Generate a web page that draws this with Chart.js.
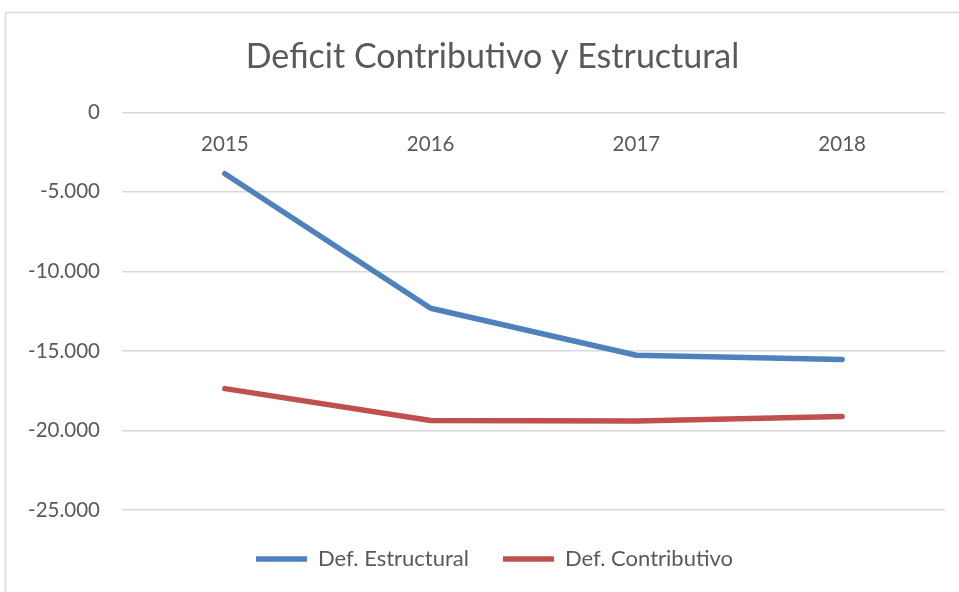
<!DOCTYPE html>
<html>
<head>
<meta charset="utf-8">
<script src="https://cdn.jsdelivr.net/npm/chart.js@4"></script>
<style>
  html, body { margin: 0; padding: 0; background: #ffffff; }
  #wrap { width: 959px; height: 592px; }
</style>
</head>
<body>
<div id="wrap"><canvas id="c" width="959" height="592"></canvas></div>
<script>
const chartTitle = 'Deficit Contributivo y Estructural';
const categories = ['2015', '2016', '2017', '2018'];
const seriesNames = ['Def. Estructural', 'Def. Contributivo'];
const estructural = [-3860, -12320, -15270, -15540];
const contributivo = [-17370, -19370, -19410, -19120];
const yMin = -25000, yMax = 0, yStep = 5000;

const TEXT = '#595959';
const FONT = 'Lato, "Open Sans", sans-serif';

function fmt(v) {
  const s = Math.abs(v).toString().replace(/\B(?=(\d{3})+(?!\d))/g, '.');
  return (v < 0 ? '-' : '') + s;
}

const framePlugin = {
  id: 'frame',
  beforeDraw(chart) {
    const ctx = chart.ctx;
    ctx.save();
    ctx.fillStyle = '#ffffff';
    ctx.fillRect(0, 0, chart.width, chart.height);
    ctx.strokeStyle = '#d9d9d9';
    ctx.lineWidth = 1.5;
    ctx.beginPath();
    ctx.moveTo(5.5, chart.height + 5);
    ctx.lineTo(5.5, 12.5);
    ctx.lineTo(chart.width + 5, 12.5);
    ctx.stroke();
    ctx.restore();
  },
  afterLayout(chart) {
    const t = chart.titleBlock;
    if (t) { t.left += 20; t.right += 20; }
    const l = chart.legend;
    if (l) { l.left += 22; l.right += 22; }
  }
};

new Chart(document.getElementById('c'), {
  type: 'line',
  data: {
    labels: categories,
    datasets: [
      {
        label: seriesNames[0],
        data: estructural,
        borderColor: '#4f81bd',
        backgroundColor: '#4f81bd',
        borderWidth: 5.5,
        borderCapStyle: 'round',
        borderJoinStyle: 'round',
        pointRadius: 0,
        pointHoverRadius: 0,
        tension: 0,
        fill: false
      },
      {
        label: seriesNames[1],
        data: contributivo,
        borderColor: '#c0504d',
        backgroundColor: '#c0504d',
        borderWidth: 5.5,
        borderCapStyle: 'round',
        borderJoinStyle: 'round',
        pointRadius: 0,
        pointHoverRadius: 0,
        tension: 0,
        fill: false
      }
    ]
  },
  options: {
    responsive: false,
    animation: false,
    devicePixelRatio: 1,
    layout: { padding: { top: 0, left: 0, right: 14, bottom: 12 } },
    plugins: {
      tooltip: { enabled: false },
      title: {
        display: true,
        text: chartTitle,
        color: TEXT,
        font: { family: FONT, size: 34, weight: 'normal', lineHeight: 1.2 },
        padding: { top: 36.5, bottom: 35 }
      },
      legend: {
        display: true,
        position: 'bottom',
        title: { display: true, text: '', font: { size: 4, lineHeight: 1 }, padding: 0 },
        labels: {
          usePointStyle: true,
          pointStyle: 'line',
          pointStyleWidth: 51,
          padding: 34,
          color: TEXT,
          font: { family: FONT, size: 22 }
        }
      }
    },
    scales: {
      x: {
        type: 'category',
        position: { y: 0 },
        offset: true,
        grid: { display: false, drawTicks: false },
        border: { display: false },
        ticks: {
          color: TEXT,
          font: { family: FONT, size: 20.5 },
          padding: 20,
          maxRotation: 0
        }
      },
      y: {
        min: yMin,
        max: yMax,
        position: 'left',
        grid: { color: '#d9d9d9', lineWidth: 1.5, drawTicks: false },
        border: { display: false },
        ticks: {
          stepSize: yStep,
          color: TEXT,
          font: { family: FONT, size: 20.5 },
          padding: 22,
          callback: (v) => fmt(v)
        },
        afterFit(scale) { scale.width = 122; }
      }
    }
  },
  plugins: [framePlugin]
});
</script>
</body>
</html>
